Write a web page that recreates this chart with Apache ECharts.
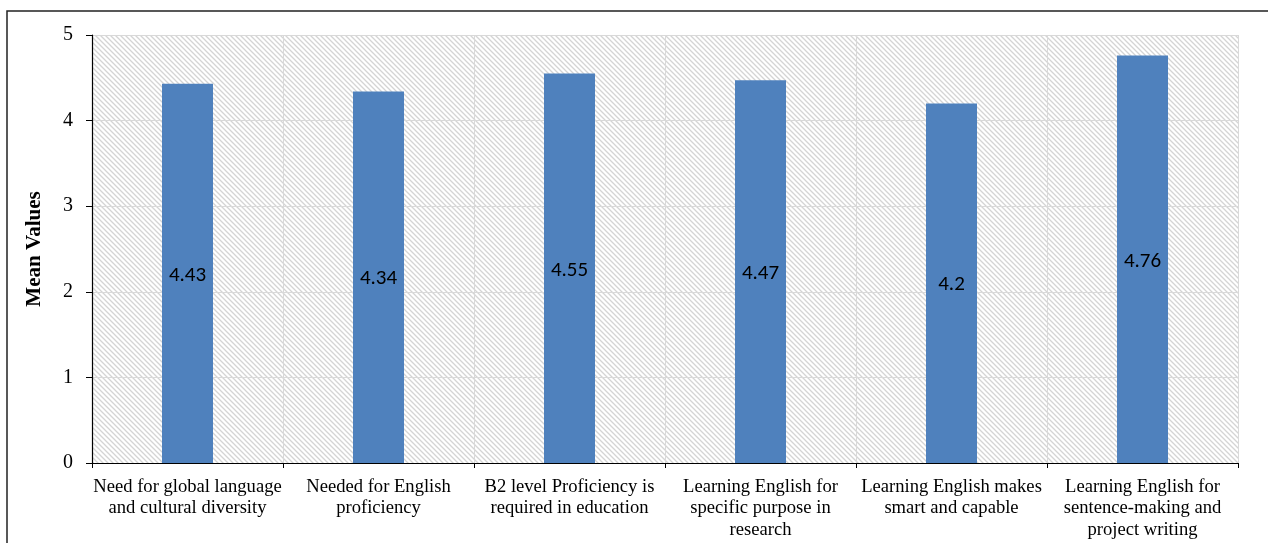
<!DOCTYPE html>
<html>
<head>
<meta charset="utf-8">
<script src="https://cdn.jsdelivr.net/npm/echarts@6/dist/echarts.min.js"></script>
<style>
  html, body { margin: 0; padding: 0; background: #fff; }
  #chart { width: 1268px; height: 543px; }
</style>
</head>
<body>
<div id="chart"></div>
<script>
// chart data
var categories = [
    'Need for global language\nand cultural diversity',
    'Needed for English\nproficiency',
    'B2 level Proficiency is\nrequired in education',
    'Learning English for\nspecific purpose in\nresearch',
    'Learning English makes\nsmart and capable',
    'Learning English for\nsentence-making and\nproject writing'
];
var meanValues = [4.43, 4.34, 4.55, 4.47, 4.2, 4.76];
var yTicks = [0, 1, 2, 3, 4, 5];

// diagonal hatch used behind the plot
function makeHatch () {
    var c = document.createElement('canvas');
    c.width = 5;
    c.height = 5;
    var ctx = c.getContext('2d');
    ctx.fillStyle = '#ffffff';
    ctx.fillRect(0, 0, 5, 5);
    ctx.strokeStyle = '#d4d4d4';
    ctx.lineWidth = 1.3;
    ctx.beginPath();
    ctx.moveTo(-1, -1); ctx.lineTo(6, 6);
    ctx.moveTo(-1, 4); ctx.lineTo(1, 6);
    ctx.moveTo(4, -1); ctx.lineTo(6, 1);
    ctx.stroke();
    return c;
}

var myChart = echarts.init(document.getElementById('chart'));
var serif = '"Liberation Serif", "Times New Roman", serif';
var sans = 'Carlito, Calibri, "Liberation Sans", sans-serif';

var option = {
    animation: false,
    grid: {
        left: 92,
        right: 30,
        top: 35,
        bottom: 80,
        show: true,
        borderWidth: 0,
        backgroundColor: { image: makeHatch(), repeat: 'repeat' }
    },
    graphic: [
        {
            type: 'rect',
            shape: { x: 7, y: 11, width: 1400, height: 700 },
            style: { fill: 'none', stroke: '#222', lineWidth: 1.5 },
            silent: true
        }
    ],
    xAxis: {
        type: 'category',
        data: categories,
        axisLine: { lineStyle: { color: '#000', width: 1.2 } },
        axisTick: { show: true, length: 5, lineStyle: { color: '#000' } },
        splitLine: { show: true, lineStyle: { color: '#d9d9d9', width: 1 } },
        axisLabel: {
            interval: 0,
            margin: 13,
            color: '#000',
            fontFamily: serif,
            fontSize: 18.6,
            lineHeight: 21.5
        }
    },
    yAxis: {
        type: 'value',
        min: yTicks[0],
        max: yTicks[yTicks.length - 1],
        interval: 1,
        name: 'Mean Values',
        nameLocation: 'middle',
        nameGap: 47,
        nameTextStyle: {
            color: '#000',
            fontFamily: serif,
            fontSize: 21,
            fontWeight: 'bold'
        },
        axisLine: { show: true, lineStyle: { color: '#000', width: 1.2 } },
        axisTick: { show: true, length: 6, lineStyle: { color: '#000' } },
        splitLine: { show: true, lineStyle: { color: '#d9d9d9', width: 1 } },
        axisLabel: {
            margin: 19,
            color: '#000',
            fontFamily: serif,
            fontSize: 20
        }
    },
    series: [
        {
            name: 'Mean Values',
            type: 'bar',
            data: meanValues,
            barWidth: 51,
            itemStyle: { color: '#4F81BD' },
            label: {
                show: true,
                position: 'inside',
                offset: [0, 2],
                color: '#000',
                fontFamily: sans,
                fontSize: 21
            }
        }
    ]
};

option && myChart.setOption(option);
</script>
</body>
</html>
